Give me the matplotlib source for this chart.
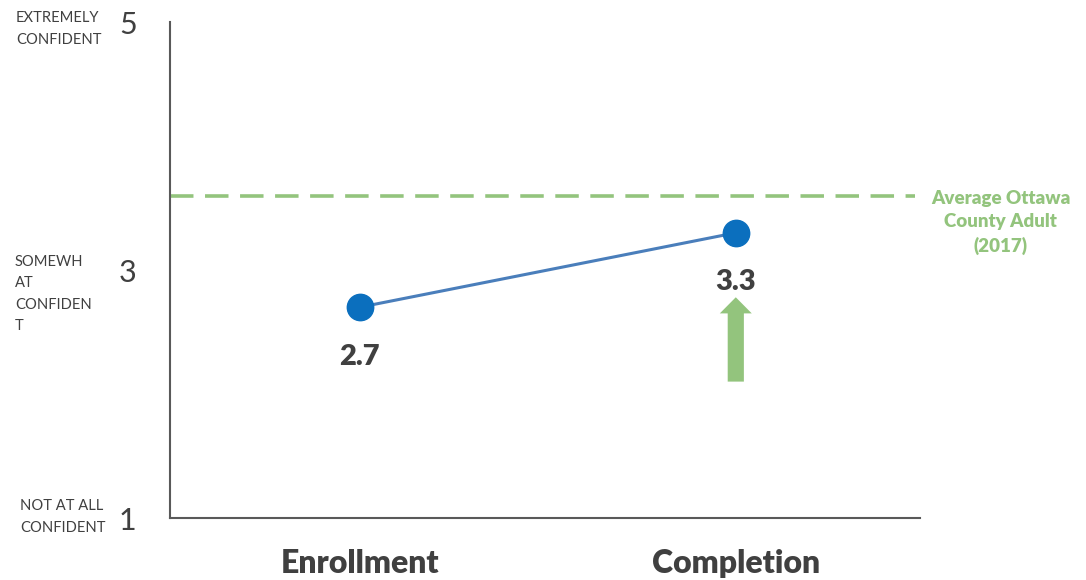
import matplotlib.pyplot as plt
from matplotlib.patches import FancyArrow

# data
stages = ["Enrollment", "Completion"]
scores = [2.7, 3.3]
county_avg = 3.6
avg_label = "Average Ottawa\nCounty Adult\n(2017)"
y_ticks = [1, 3, 5]
y_names = ["NOT AT ALL\nCONFIDENT", "SOMEWH\nAT\nCONFIDEN\nT", "EXTREMELY\nCONFIDENT"]
arrow_from = 2.1
arrow_to = 2.78

plt.rcParams['font.family'] = ['Lato', 'DejaVu Sans']

dark = "#404040"
green = "#93c47d"

fig = plt.figure(figsize=(10.86, 5.8), dpi=100)
ax = fig.add_axes([170 / 1086, 62 / 580, 750 / 1086, 496 / 580])

x = list(range(len(stages)))
ax.plot(x, scores, color="#4a7ebb", lw=2.2, zorder=3)
ax.plot(x, scores, "o", color="#0b6fbe", ms=19, zorder=4)

for xi, v in zip(x, scores):
    ax.annotate("{:.1f}".format(v), (xi, v), xytext=(0, -35.5), textcoords="offset points",
                ha="center", va="center", fontsize=21, fontweight="heavy", color=dark)

# county average line
ax.axhline(county_avg, xmax=0.993, color=green, lw=2.6, dashes=(6.5, 3.2))
ax.annotate(avg_label, (1.0, county_avg), xycoords=("axes fraction", "data"),
            xytext=(58, 4), textcoords="offset points", ha="center", va="top",
            fontsize=13.5, fontweight="heavy", color=green, linespacing=1.45,
            annotation_clip=False)

# up arrow under completion
ax.add_patch(FancyArrow(1, arrow_from, 0, arrow_to - arrow_from, width=0.043,
                        head_width=0.085, head_length=0.13, length_includes_head=True,
                        color=green, lw=0, zorder=2))

ax.set_xlim(-0.505, 1.49)
ax.set_ylim(1, 5)
ax.set_xticks(x)
ax.set_xticklabels(stages, fontsize=23, fontweight="heavy", color=dark)
ax.set_yticks(y_ticks)
ax.set_yticklabels([str(t) for t in y_ticks], fontsize=22, color=dark)
ax.tick_params(axis="y", length=0, pad=24)
ax.tick_params(axis="x", length=0, pad=22)

for s in ["top", "right"]:
    ax.spines[s].set_visible(False)
for s in ["left", "bottom"]:
    ax.spines[s].set_color("#595959")
    ax.spines[s].set_linewidth(1.5)

# side captions
name_y = [517, 294, 29]
name_x = [20, 15, 16]
for t, yy, xx in zip(y_names, name_y, name_x):
    fig.text(xx / 1086, 1 - yy / 580, t, ha="left", va="center", fontsize=10.6,
             color=dark, linespacing=1.65)

fig.savefig("out.png", dpi=100)
